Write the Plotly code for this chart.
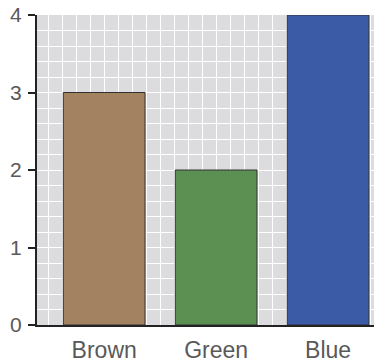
import plotly.graph_objects as go

categories = ["Brown", "Green", "Blue"]
values = [3, 2, 4]
colors = ["#A38262", "#5B9052", "#3B5BA6"]
y_ticks = [0, 1, 2, 3, 4]

fig = go.Figure(
    go.Bar(
        x=list(range(len(categories))),
        y=values,
        width=0.73,
        marker=dict(color=colors, line=dict(color="#333333", width=1)),
    )
)

fig.update_layout(
    width=374,
    height=363,
    margin=dict(l=37, r=0, t=15, b=38, autoexpand=False),
    paper_bgcolor="white",
    plot_bgcolor="#DCDCDE",
    showlegend=False,
    font=dict(family="Liberation Sans, Arial, sans-serif", size=21, color="#595959"),
)

fig.update_xaxes(
    automargin=False,
    range=[-0.6, 2.41],
    tickmode="array",
    tickvals=list(range(len(categories))),
    ticktext=categories,
    tickfont=dict(size=23),
    showgrid=True,
    gridcolor="white",
    gridwidth=1,
    ticks="",
    ticklabelstandoff=3,
    showline=True,
    linecolor="#222222",
    linewidth=2,
    zeroline=False,
    minor=dict(dtick=0.125, tick0=0, showgrid=True, gridcolor="white", gridwidth=1),
)

fig.update_yaxes(
    automargin=False,
    range=[0, 4],
    tickmode="array",
    tickvals=y_ticks,
    ticktext=[str(v) for v in y_ticks],
    tickfont=dict(size=21),
    showgrid=True,
    gridcolor="white",
    gridwidth=1,
    ticks="outside",
    ticklen=7,
    tickwidth=2,
    tickcolor="#222222",
    showline=True,
    linecolor="#222222",
    linewidth=2,
    zeroline=False,
    ticklabelstandoff=2,
    minor=dict(dtick=0.2, tick0=0, showgrid=True, gridcolor="white", gridwidth=1),
)

fig.write_html(
    "out.html",
    config={"displayModeBar": False},
    post_script="document.body.style.margin='0';document.body.style.overflow='hidden';",
)
